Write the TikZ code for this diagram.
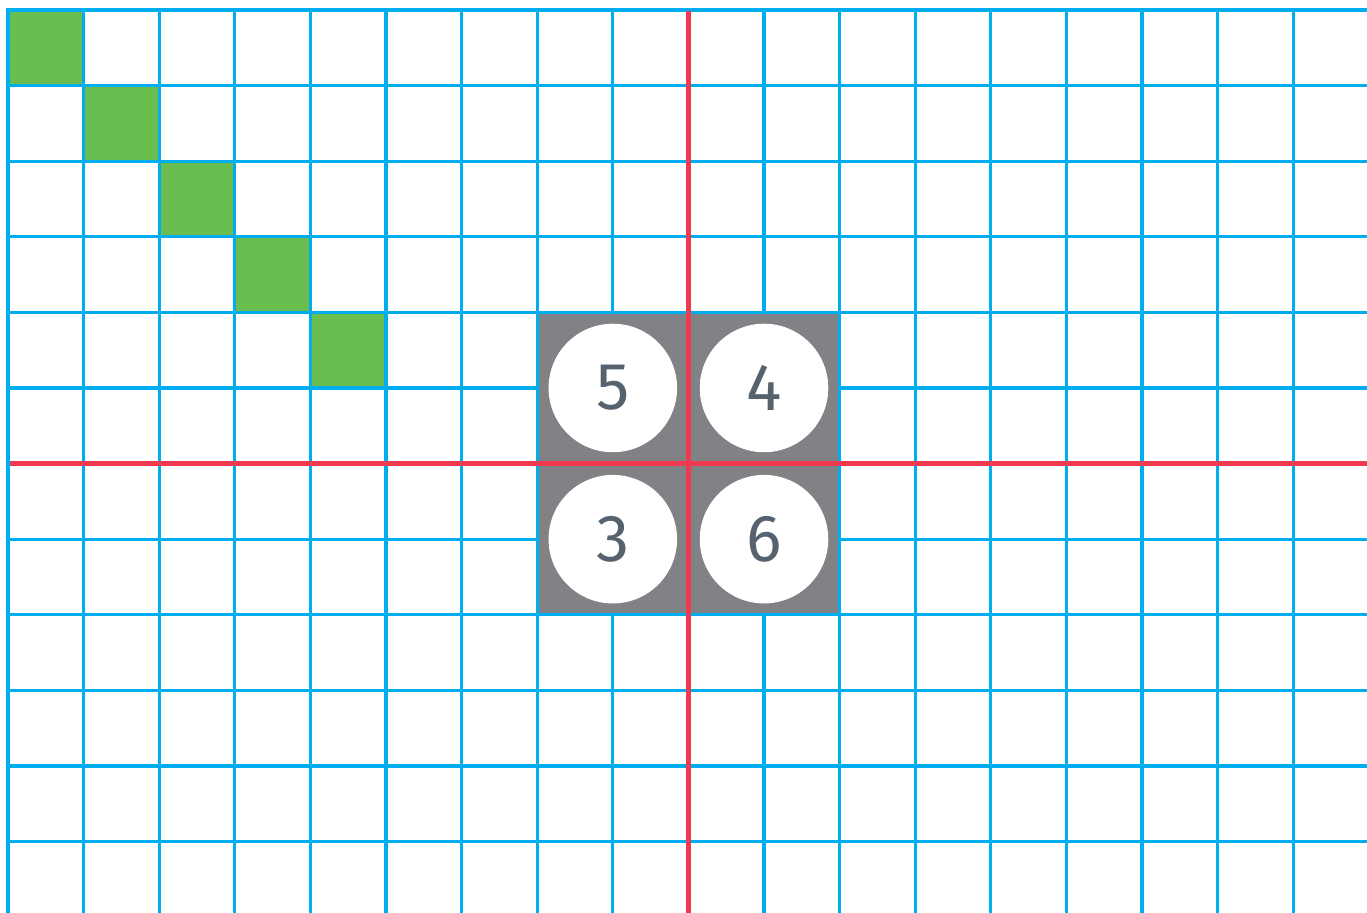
\documentclass[tikz,border=0pt]{standalone}
\usepackage{fontspec}
\setmainfont{Fira Sans}
\definecolor{gridblue}{HTML}{00AEEF}
\definecolor{cellgreen}{HTML}{6ABD4F}
\definecolor{boxgray}{HTML}{808285}
\definecolor{axisred}{HTML}{EF3A4F}
\definecolor{digitgray}{HTML}{56636F}
\tikzset{
  gridline/.style={gridblue, line width=1.2pt},
  axisline/.style={axisred, line width=1.9pt},
  disc/.style={circle, fill=white, minimum size=1.7cm, inner sep=0pt,
    text=digitgray, font=\fontsize{25}{30}\selectfont}
}
\begin{document}
\begin{tikzpicture}[line join=miter, line cap=rect]
			\useasboundingbox (-0.106,0.132) rectangle (17.976,-11.944);
			\coordinate (O) at (0,0);
			\coordinate (M) at (9,-6);
			% Các ô xanh theo đường chéo
			\foreach \i in {0,...,4}
			\fill[cellgreen] (\i,-\i) rectangle ++(1,-1);
			% Lưới ô vuông
			\draw[gridline, step=1] (0,-12) grid (18,0);
			% Khối xám 4x4 ô
			\fill[boxgray, draw=gridblue, line width=1.2pt] (7,-4) rectangle (11,-8);
			% Hai trục đỏ
			\draw[axisline, line cap=butt] (9,-0.02) -- (9,-12);
			\draw[axisline, line cap=butt] (0.02,-6) -- (18,-6);
			% Các hình tròn đánh số
			\foreach \p/\x/\y in {5/8/-5, 4/10/-5, 3/8/-7, 6/10/-7}
			\node[disc] (n\p) at (\x,\y) {\p};
		\end{tikzpicture}
\end{document}
